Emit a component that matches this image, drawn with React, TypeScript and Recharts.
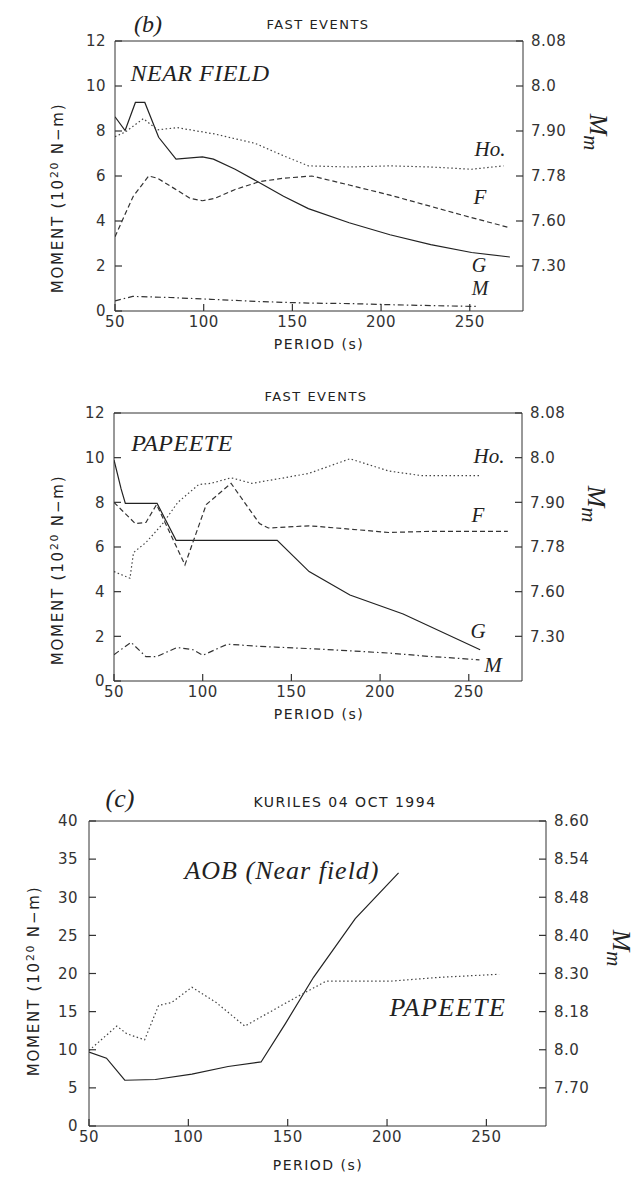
import React from "react";
import { LineChart, Line, XAxis, YAxis } from "recharts";

// axis ticks
const periodTicks = [50, 100, 150, 200, 250];
const momentTicksB = [0, 2, 4, 6, 8, 10, 12];
const mmTicksB = [2, 4, 6, 8, 10, 12];
const mmLabelsB = ["7.30", "7.60", "7.78", "7.90", "8.0", "8.08"];
const momentTicksC = [0, 5, 10, 15, 20, 25, 30, 35, 40];
const mmTicksC = [5, 10, 15, 20, 25, 30, 35, 40];
const mmLabelsC = ["7.70", "8.0", "8.18", "8.30", "8.40", "8.48", "8.54", "8.60"];

// (b) near field
const nfGPeriod = [50, 55.7, 61.5, 66.8, 74.6, 84.4, 99.3, 105.5, 117.7, 131.5, 145, 159, 182, 205, 228, 251, 272.6];
const nfGMoment = [8.63, 8.02, 9.27, 9.27, 7.72, 6.75, 6.85, 6.75, 6.3, 5.7, 5.1, 4.55, 3.92, 3.39, 2.95, 2.6, 2.4];
const nfHoPeriod = [50, 55.7, 66, 74, 85, 106, 129, 145, 159, 182, 205, 228, 251, 269];
const nfHoMoment = [7.75, 7.95, 8.55, 8.05, 8.15, 7.87, 7.45, 6.9, 6.45, 6.4, 6.45, 6.4, 6.3, 6.45];
const nfFPeriod = [50, 53.4, 60.3, 69, 74, 83.3, 92.5, 99.3, 106, 117.7, 131.5, 145, 161, 182, 205, 228, 251, 272.6];
const nfFMoment = [3.3, 3.9, 5.1, 6.0, 5.9, 5.45, 5.0, 4.9, 5.0, 5.4, 5.75, 5.9, 6.0, 5.6, 5.15, 4.65, 4.15, 3.7];
const nfMPeriod = [50, 60, 81, 104, 131.5, 159, 182, 205, 228, 255];
const nfMMoment = [0.45, 0.65, 0.6, 0.52, 0.42, 0.35, 0.33, 0.28, 0.24, 0.2];

// (b) papeete
const ppGPeriod = [50, 54, 56.4, 74.3, 85, 142, 160, 183, 213, 256.4];
const ppGMoment = [9.9, 8.6, 7.95, 7.95, 6.3, 6.3, 4.9, 3.85, 3.0, 1.4];
const ppHoPeriod = [50, 59, 61, 68, 77, 86, 97.8, 104.7, 116, 127.7, 146, 160, 183, 205, 223, 256.4];
const ppHoMoment = [4.9, 4.6, 5.75, 6.2, 7.0, 8.0, 8.8, 8.85, 9.1, 8.85, 9.1, 9.3, 9.95, 9.4, 9.2, 9.2];
const ppFPeriod = [50, 55, 62, 68, 74, 90, 102, 116, 132, 137, 160, 183, 205, 228, 272];
const ppFMoment = [8.0, 7.6, 7.05, 7.1, 7.9, 5.2, 7.9, 8.85, 7.05, 6.85, 6.95, 6.8, 6.65, 6.7, 6.7];
const ppMPeriod = [50, 59.6, 68, 74, 85.5, 94.5, 100, 114, 132, 160, 183, 205, 228, 256];
const ppMMoment = [1.18, 1.73, 1.09, 1.09, 1.5, 1.4, 1.15, 1.65, 1.55, 1.45, 1.35, 1.25, 1.1, 0.95];

// (c) kuriles
const aobPeriod = [50, 58.8, 68, 83.4, 101.8, 120, 136.6, 149, 163, 184, 205.8];
const aobMoment = [9.7, 8.9, 6.0, 6.1, 6.8, 7.8, 8.4, 13.5, 19.5, 27.2, 33.2];
const papPeriod = [50, 64, 69, 78, 85, 91.6, 101.8, 114, 128.4, 140.7, 153, 169.4, 185.8, 202, 226.7, 256.4];
const papMoment = [9.9, 13.1, 12.1, 11.3, 15.8, 16.2, 18.2, 16.2, 13.1, 14.9, 16.7, 19.0, 19.0, 19.0, 19.5, 19.9];

const zip = (p: number[], m: number[]) => p.map((x, i) => ({ period: x, moment: m[i] }));

const INK = "#333";
const SANS = "'DejaVu Sans', sans-serif";
const SERIF = "'Liberation Serif', serif";
const TICK = -7; // negative size -> ticks point into the plot

const tickFont = { fontFamily: SANS, fontSize: 15, fill: INK, letterSpacing: 0.5 };

const solid = { stroke: "#222", strokeWidth: 1.2 };
const dotted = { stroke: "#444", strokeWidth: 1.2, strokeDasharray: "1.5 2.5" };
const dashed = { stroke: "#333", strokeWidth: 1.2, strokeDasharray: "5 3" };
const dashDot = { stroke: "#333", strokeWidth: 1.2, strokeDasharray: "6 3 1.5 3" };

type Series = { data: { period: number; moment: number }[]; style: any; name: string };

function Panel(props: {
  top: number; height: number; mTop: number; leftW: number; rightW: number; bottomH: number;
  yMax: number; yTicks: number[]; rTicks: number[]; rLabels: string[]; series: Series[]; lgap: number;
}) {
  const { top, height, mTop, leftW, rightW, bottomH, yMax, yTicks, rTicks, rLabels, series, lgap } = props;
  const axisLine = { stroke: INK, strokeWidth: 1 };
  const tickLine = { stroke: INK, strokeWidth: 1.2 };
  return (
    <div style={{ position: "absolute", left: 0, top }}>
      <LineChart width={636} height={height} margin={{ top: mTop, right: 0, bottom: 0, left: 0 }}>
        <XAxis xAxisId="b" type="number" dataKey="period" domain={[50, 280]} ticks={periodTicks}
          height={bottomH} allowDataOverflow axisLine={axisLine} tickLine={tickLine}
          tickSize={TICK} tickMargin={-TICK + 5} tick={tickFont} />
        <XAxis xAxisId="t" orientation="top" type="number" dataKey="period" domain={[50, 280]} ticks={periodTicks}
          height={10} allowDataOverflow axisLine={axisLine} tickLine={tickLine}
          tickSize={TICK} tick={false} />
        <YAxis yAxisId="l" type="number" domain={[0, yMax]} ticks={yTicks} width={leftW}
          allowDataOverflow axisLine={axisLine} tickLine={tickLine}
          tickSize={TICK} tickMargin={-TICK + lgap} tick={tickFont} />
        <YAxis yAxisId="r" orientation="right" type="number" domain={[0, yMax]} ticks={rTicks} width={rightW}
          allowDataOverflow axisLine={axisLine} tickLine={tickLine}
          tickSize={TICK} tickMargin={-TICK + 8} tick={tickFont}
          tickFormatter={(v: number) => rLabels[rTicks.indexOf(v)]} />
        {series.map((s) => (
          <Line key={s.name} name={s.name} xAxisId="b" yAxisId="l" data={s.data} dataKey="moment"
            type="linear" dot={false} activeDot={false} isAnimationActive={false} {...s.style} />
        ))}
      </LineChart>
    </div>
  );
}

function Note(props: { x: number; y: number; size: number; italic?: boolean; serif?: boolean; rot?: number; ls?: number; children: React.ReactNode }) {
  const { x, y, size, italic, serif, rot = 0, ls = 0, children } = props;
  return (
    <div style={{
      position: "absolute", left: x, top: y, transform: `translate(-50%, -50%) rotate(${rot}deg)`,
      fontFamily: serif ? SERIF : SANS, fontStyle: italic ? "italic" : "normal", fontSize: size,
      color: "#222", whiteSpace: "nowrap", letterSpacing: ls, lineHeight: 1,
    }}>{children}</div>
  );
}

const MomentLabel = () => (
  <span>MOMENT (10<sup style={{ fontSize: "0.72em", verticalAlign: "0.45em", lineHeight: 0 }}>20</sup> N−m)</span>
);
const MmLabel = () => (
  <span>M<sub style={{ fontSize: "0.8em", verticalAlign: "-0.3em", lineHeight: 0 }}>m</sub></span>
);

export default function App() {
  return (
    <div style={{ position: "absolute", left: 0, top: 0, width: 636, height: 1177, background: "#fff", overflow: "hidden" }}>
      <Panel top={0} height={360} mTop={31} leftW={115} rightW={113} bottomH={49} yMax={12}
        yTicks={momentTicksB} rTicks={mmTicksB} rLabels={mmLabelsB} lgap={9}
        series={[
          { name: "G", data: zip(nfGPeriod, nfGMoment), style: solid },
          { name: "Ho.", data: zip(nfHoPeriod, nfHoMoment), style: dotted },
          { name: "F", data: zip(nfFPeriod, nfFMoment), style: dashed },
          { name: "M", data: zip(nfMPeriod, nfMMoment), style: dashDot },
        ]} />
      <Panel top={370} height={360} mTop={33} leftW={114} rightW={114} bottomH={49} yMax={12}
        yTicks={momentTicksB} rTicks={mmTicksB} rLabels={mmLabelsB} lgap={9}
        series={[
          { name: "G", data: zip(ppGPeriod, ppGMoment), style: solid },
          { name: "Ho.", data: zip(ppHoPeriod, ppHoMoment), style: dotted },
          { name: "F", data: zip(ppFPeriod, ppFMoment), style: dashed },
          { name: "M", data: zip(ppMPeriod, ppMMoment), style: dashDot },
        ]} />
      <Panel top={780} height={397} mTop={31} leftW={89} rightW={90} bottomH={51} yMax={40}
        yTicks={momentTicksC} rTicks={mmTicksC} rLabels={mmLabelsC} lgap={11}
        series={[
          { name: "AOB", data: zip(aobPeriod, aobMoment), style: solid },
          { name: "PAPEETE", data: zip(papPeriod, papMoment), style: dotted },
        ]} />

      {/* panel (b) near field */}
      <Note x={148} y={24} size={24} italic serif>(b)</Note>
      <Note x={318} y={24} size={13} ls={1.5}>FAST EVENTS</Note>
      <Note x={200} y={73} size={24} italic serif ls={0.5}>NEAR FIELD</Note>
      <Note x={490} y={149} size={21} italic serif>Ho.</Note>
      <Note x={480} y={197} size={21} italic serif>F</Note>
      <Note x={479} y={265} size={20} italic serif>G</Note>
      <Note x={480} y={288} size={20} italic serif>M</Note>
      <Note x={58} y={198} size={15} rot={-90} ls={1.8}><MomentLabel /></Note>
      <Note x={598} y={132} size={26} italic serif rot={90}><MmLabel /></Note>
      <Note x={319} y={344} size={14} ls={1.5}>PERIOD (s)</Note>

      {/* panel (b) papeete */}
      <Note x={316} y={396} size={13} ls={1.5}>FAST EVENTS</Note>
      <Note x={182} y={443} size={24} italic serif ls={0.5}>PAPEETE</Note>
      <Note x={489} y={456} size={21} italic serif>Ho.</Note>
      <Note x={478} y={515} size={21} italic serif>F</Note>
      <Note x={478} y={631} size={21} italic serif>G</Note>
      <Note x={493} y={665} size={21} italic serif>M</Note>
      <Note x={58} y={570} size={15} rot={-90} ls={1.8}><MomentLabel /></Note>
      <Note x={596} y={504} size={26} italic serif rot={90}><MmLabel /></Note>
      <Note x={319} y={714} size={14} ls={1.5}>PERIOD (s)</Note>

      {/* panel (c) */}
      <Note x={120} y={799} size={26} italic serif>(c)</Note>
      <Note x={345} y={802} size={14} ls={1.5}>KURILES 04 OCT 1994</Note>
      <Note x={282} y={871} size={26} italic serif ls={1}>AOB (Near field)</Note>
      <Note x={448} y={1008} size={26} italic serif ls={1.5}>PAPEETE</Note>
      <Note x={34} y={981} size={15} rot={-90} ls={1.8}><MomentLabel /></Note>
      <Note x={621} y={948} size={26} italic serif rot={90}><MmLabel /></Note>
      <Note x={318} y={1165} size={14} ls={1.5}>PERIOD (s)</Note>
    </div>
  );
}
